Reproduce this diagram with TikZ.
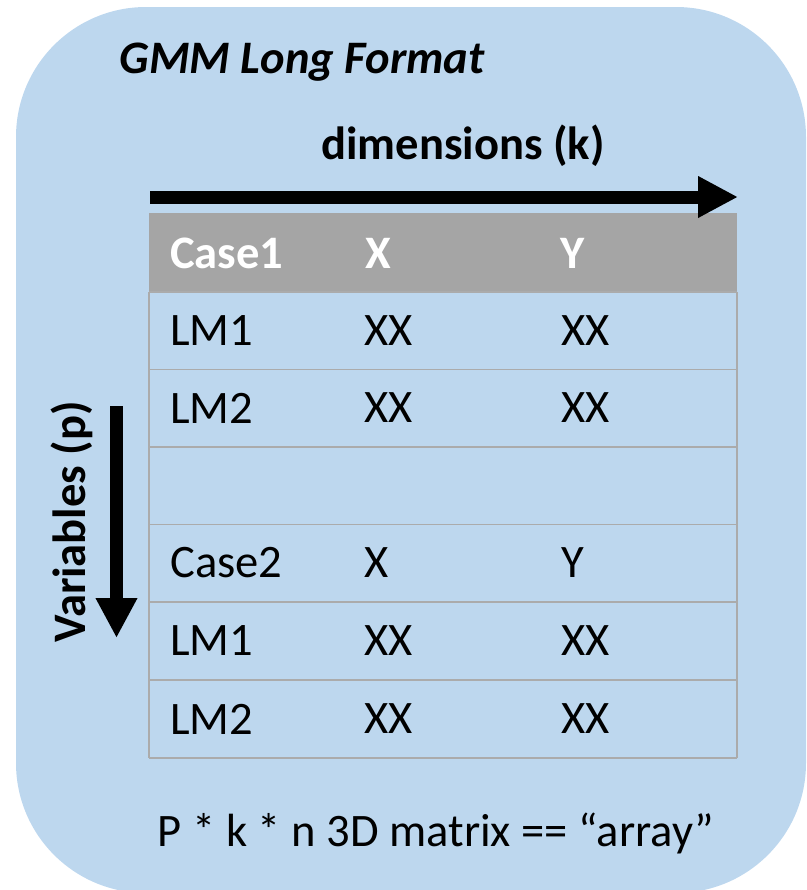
\documentclass[tikz,border=0pt]{standalone}
\usepackage{fontspec}
\setmainfont{Carlito}
\usetikzlibrary{arrows.meta}
\definecolor{boxblue}{HTML}{BDD7EE}
\definecolor{headgray}{HTML}{A5A5A5}
\definecolor{linegray}{HTML}{ABABAB}

\begin{document}
\begin{tikzpicture}[x=0.02cm,y=-0.02cm,
    every node/.style={font=\fontsize{26.5}{30}\selectfont},
    cell/.style={anchor=west,inner sep=0pt},
    headcell/.style={cell,text=white,font=\fontsize{26.5}{30}\selectfont\bfseries},
    bigarrow/.style={line width=7.4pt,-{Triangle[length=22.7pt,width=22.1pt]}},
    gridline/.style={linegray,line width=1.1pt}]

\useasboundingbox (0,0) rectangle (807,890);

% 背景(角丸の箱)
\begin{scope}
\clip (0,0) rectangle (807,890);
\fill[boxblue,rounded corners=2.6cm] (16,7) rectangle (806,893);
\end{scope}

% タイトル
\node[anchor=west,inner sep=0pt,font=\fontsize{26.5}{30}\selectfont\bfseries\itshape] (title) at (119,62) {GMM Long Format};

% ヘッダ行
\fill[headgray] (149,213) rectangle (737,292);
\node[headcell] (case1) at (170,253) {Case1};
\node[headcell] (hx) at (365,253) {X};
\node[headcell] (hy) at (560,253) {Y};

% 表の罫線
\foreach \y in {292, 369.5, 447, 524.5, 602, 680, 758} {
    \draw[gridline] (149,\y) -- (737,\y);
}
\draw[gridline] (149,292) -- (149,758);
\draw[gridline] (737,292) -- (737,758);

% 各行(行名, y, 列1, 列2)
\foreach \name/\y/\a/\b/\c in {
    lma/331/LM1/XX/XX,
    lmb/408/LM2/XX/XX,
    cs/563/Case2/X/Y,
    lmc/641/LM1/XX/XX,
    lmd/719/LM2/XX/XX} {
    \node[cell] (\name-1) at (170,\y) {\a};
    \node[cell] (\name-2) at (364,\y) {\b};
    \node[cell] (\name-3) at (561,\y) {\c};
}

% 次元の矢印(k)
\node[font=\fontsize{26.5}{30}\selectfont\bfseries] (dimlabel) at (463,146) {dimensions (k)};
\coordinate (kstart) at (150,197);
\coordinate (kend) at (738,197);
\draw[bigarrow] (kstart) -- (kend);

% 変数の矢印(p)
\node[rotate=90,font=\fontsize{26.5}{30}\selectfont\bfseries] (varlabel) at (72,522) {Variables (p)};
\coordinate (pstart) at (116.5,406);
\coordinate (pend) at (116.5,638);
\draw[bigarrow] (pstart) -- (pend);

% 下の説明
\node (note) at (436,833) {P * k * n 3D matrix == ``array''};
\end{tikzpicture}
\end{document}
